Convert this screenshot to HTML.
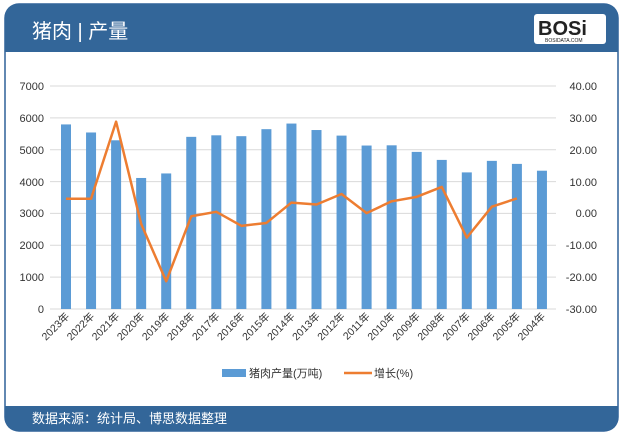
<!DOCTYPE html><html><head><meta charset="utf-8"><style>
body{margin:0;width:624px;height:433px;background:#fff;overflow:hidden;font-family:"Liberation Sans","Noto Sans CJK SC",sans-serif}
</style></head><body>
<svg width="624" height="433" xmlns="http://www.w3.org/2000/svg" font-family="Liberation Sans, Noto Sans CJK SC, sans-serif">
<rect x="5" y="4" width="613" height="427" rx="14" fill="#fff" stroke="#2f6199" stroke-width="1.5"/>
<path d="M5 52 V18 Q5 4 19 4 H604 Q618 4 618 18 V52 Z" fill="#336699"/>
<path d="M5 406 H618 V417 Q618 431 604 431 H19 Q5 431 5 417 Z" fill="#336699"/>
<text x="32" y="38" fill="#fff" font-size="20">猪肉 | 产量</text>
<rect x="534" y="14" width="72" height="30" rx="3" fill="#fff"/>
<text x="538" y="35" font-size="20" font-weight="bold" fill="#222">BOSi</text>
<text x="545" y="42" font-size="5" fill="#222">BOSIDATA.COM</text>
<g stroke="#d9d9d9" stroke-width="1">
<line x1="50" y1="86" x2="556" y2="86"/><line x1="50" y1="117.9" x2="556" y2="117.9"/><line x1="50" y1="149.7" x2="556" y2="149.7"/><line x1="50" y1="181.6" x2="556" y2="181.6"/><line x1="50" y1="213.4" x2="556" y2="213.4"/><line x1="50" y1="245.3" x2="556" y2="245.3"/><line x1="50" y1="277.1" x2="556" y2="277.1"/><line x1="50" y1="309" x2="556" y2="309"/>
</g>
<g font-size="11" fill="#333" text-anchor="end">
<text x="44" y="90">7000</text><text x="44" y="122">6000</text><text x="44" y="154">5000</text><text x="44" y="186">4000</text><text x="44" y="217">3000</text><text x="44" y="249">2000</text><text x="44" y="281">1000</text><text x="44" y="313">0</text>
</g>
<g font-size="11" fill="#333" text-anchor="end">
<text x="597" y="90">40.00</text><text x="597" y="122">30.00</text><text x="597" y="154">20.00</text><text x="597" y="186">10.00</text><text x="597" y="217">0.00</text><text x="597" y="249">-10.00</text><text x="597" y="281">-20.00</text><text x="597" y="313">-30.00</text>
</g>
<g fill="#5b9bd5" id="bars"></g>
<polyline id="ln" fill="none" stroke="#ed7d31" stroke-width="2.5" stroke-linejoin="round"/>
<g id="xl" font-size="10.5" fill="#333"></g>
<rect x="222" y="369" width="24" height="8" fill="#5b9bd5"/>
<text x="249" y="377" font-size="11" fill="#333">猪肉产量(万吨)</text>
<line x1="344" y1="373" x2="372" y2="373" stroke="#ed7d31" stroke-width="2.5"/>
<text x="374" y="377" font-size="11" fill="#333">增长(%)</text>
<text x="32" y="423" fill="#fff" font-size="13">数据来源：统计局、博思数据整理</text>
</svg>
<script>
var v=[5794,5541,5296,4113,4255,5404,5452,5425,5645,5821,5618,5443,5131,5138,4932,4680,4288,4650,4555,4341];
var g=[4.6,4.6,28.8,-3.3,-21.3,-0.9,0.5,-3.9,-3.0,3.4,2.8,6.1,0.1,3.8,5.2,8.3,-7.6,2.1,4.7];
var ns="http://www.w3.org/2000/svg",b=document.getElementById('bars'),xl=document.getElementById('xl'),pts=[];
for(var i=0;i<20;i++){var cx=66+i*25.05,h=v[i]*223/7000;
var r=document.createElementNS(ns,'rect');r.setAttribute('x',cx-5);r.setAttribute('y',309-h);r.setAttribute('width',10);r.setAttribute('height',h);b.appendChild(r);
var t=document.createElementNS(ns,'text');t.setAttribute('transform','translate('+(cx+4)+',317) rotate(-45)');t.setAttribute('text-anchor','end');t.textContent=(2023-i)+'年';xl.appendChild(t);
if(i<19)pts.push(cx+','+(213.4-g[i]*3.186));}
document.getElementById('ln').setAttribute('points',pts.join(' '));
</script>
</body></html>
